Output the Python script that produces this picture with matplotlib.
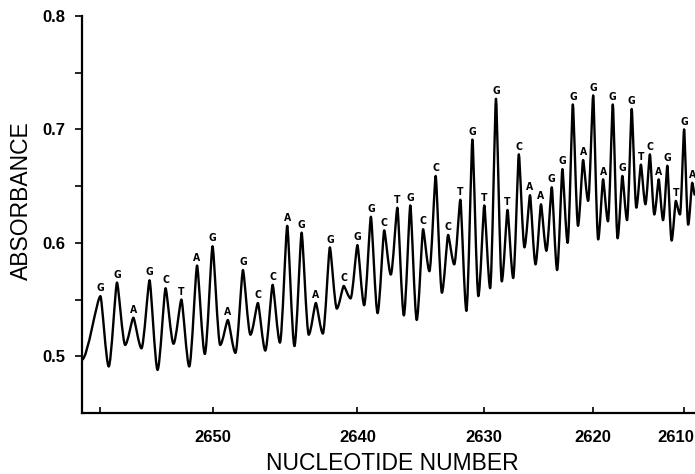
#!/usr/bin/env python
""" Sequencing trace: absorbance vs nucleotide number """

import numpy as np
import matplotlib.pyplot as plt
from matplotlib.path import Path
from matplotlib.patches import PathPatch
from matplotlib.transforms import ScaledTranslation

plt.rcParams["font.family"] = ["Liberation Sans", "DejaVu Sans"]

# Base calls, left to right (nucleotide 2657 down to 2609)
bases = list("GGAGCTAGAGCCAGAGCGGCTGCCCTGTGTCAAGGGAGAGGGTCAGTGA")
nucleotides = list(range(2657, 2608, -1))

# Peak absorbance for each base call
peaks = [
    0.553, 0.565, 0.534, 0.567, 0.560, 0.550, 0.580, 0.597, 0.532, 0.576,
    0.547, 0.563, 0.615, 0.609, 0.547, 0.596, 0.562, 0.598, 0.623, 0.611,
    0.631, 0.633, 0.612, 0.659, 0.607, 0.638, 0.691, 0.633, 0.727, 0.629,
    0.678, 0.642, 0.634, 0.649, 0.665, 0.722, 0.673, 0.730, 0.656, 0.722,
    0.659, 0.718, 0.669, 0.678, 0.656, 0.668, 0.637, 0.700, 0.653,
]

# Minimum between each peak and the next one
troughs = [
    0.491, 0.510, 0.507, 0.488, 0.511, 0.491, 0.502, 0.510, 0.503, 0.519,
    0.505, 0.512, 0.509, 0.519, 0.520, 0.542, 0.551, 0.545, 0.538, 0.572,
    0.536, 0.532, 0.575, 0.556, 0.581, 0.540, 0.553, 0.560, 0.566, 0.569,
    0.596, 0.581, 0.593, 0.576, 0.600, 0.615, 0.637, 0.603, 0.619, 0.604,
    0.620, 0.631, 0.634, 0.625, 0.620, 0.602, 0.625, 0.616,
]

trace_start = (2658.1, 0.497)
trace_end = (2608.65, 0.642)

xticks = [2657, 2650, 2640, 2630, 2620, 2610]
xticklabels = ["", "2650", "2640", "2630", "2620", "2610"]
yticks = [0.5, 0.6, 0.7, 0.8]
yticks_minor = [0.55, 0.65, 0.75]


# Run is compressed towards the end of the gel, so the axis is not linear
def fwd(n):
    u = 2650.0 - np.asarray(n, dtype=float)
    return -(15.4 * u - 0.09 * u ** 2)


def inv(y):
    p = -np.asarray(y, dtype=float)
    disc = np.clip(15.4 ** 2 - 0.36 * p, 0, None)
    u = (15.4 - np.sqrt(disc)) / 0.18
    return 2650.0 - u


def main():
    """ Main function """
    fig = plt.figure(figsize=(6.95, 4.74), dpi=100)
    ax = fig.add_axes([0.118, 0.1287, 0.882, 0.8376])
    ax.set_xscale("function", functions=(fwd, inv))
    ax.set_xlim(trace_start[0], trace_end[0])
    ax.set_ylim(0.45, 0.8)

    # key points of the trace: peaks at each base, troughs in between
    keys = [(trace_start[0], trace_start[1], "t")]
    for i, n in enumerate(nucleotides):
        keys.append((n, peaks[i], "p"))
        if i < len(troughs):
            keys.append((n - 0.5, troughs[i], "t"))
    keys.append((trace_end[0], trace_end[1], "t"))

    verts = [keys[0][:2]]
    codes = [Path.MOVETO]
    for (x0, y0, k0), (x1, y1, k1) in zip(keys[:-1], keys[1:]):
        dx = x1 - x0
        c0 = dx * (0.18 if k0 == "p" else 0.3)
        c1 = dx * (0.18 if k1 == "p" else 0.3)
        verts += [(x0 + c0, y0), (x1 - c1, y1), (x1, y1)]
        codes += [Path.CURVE4] * 3
    ax.add_patch(PathPatch(Path(verts, codes), fill=False, lw=1.7,
                           ec="black", joinstyle="round"))

    for n, b, h in zip(nucleotides, bases, peaks):
        ax.annotate(b, (n, h), xytext=(0, 2), textcoords="offset points",
                    ha="center", va="bottom", fontsize=7.5,
                    fontweight="bold", family="DejaVu Sans",
                    fontstretch="condensed")

    ax.spines["top"].set_visible(False)
    ax.spines["right"].set_visible(False)
    ax.spines["left"].set_linewidth(1.6)
    ax.spines["bottom"].set_linewidth(1.6)

    ax.set_xticks(xticks)
    ax.set_xticklabels(xticklabels)
    ax.xaxis.set_minor_locator(plt.NullLocator())
    ax.set_yticks(yticks)
    ax.set_yticklabels(["0.5", "0.6", "0.7", "0.8"])
    ax.set_yticks(yticks_minor, minor=True)
    ax.tick_params(axis="x", direction="in", length=4, width=1.2, pad=12,
                   labelsize=12)
    ax.tick_params(axis="y", which="both", direction="out", length=5,
                   width=1.2, pad=7, labelsize=12)
    for lab in ax.get_xticklabels() + ax.get_yticklabels():
        lab.set_fontweight("bold")
    # last label sits a little left of its tick so it stays on the page
    last = ax.get_xticklabels()[-1]
    last.set_transform(last.get_transform()
                       + ScaledTranslation(-6 / 72, 0, fig.dpi_scale_trans))

    ax.set_xlabel("NUCLEOTIDE NUMBER", fontsize=16.5, va="center")
    ax.xaxis.set_label_coords(0.506, -0.126)
    ax.set_ylabel("ABSORBANCE", fontsize=16.5, va="center")
    ax.yaxis.set_label_coords(-0.098, 0.534)

    fig.savefig("out.png", dpi=100)


if __name__ == "__main__":
    main()
